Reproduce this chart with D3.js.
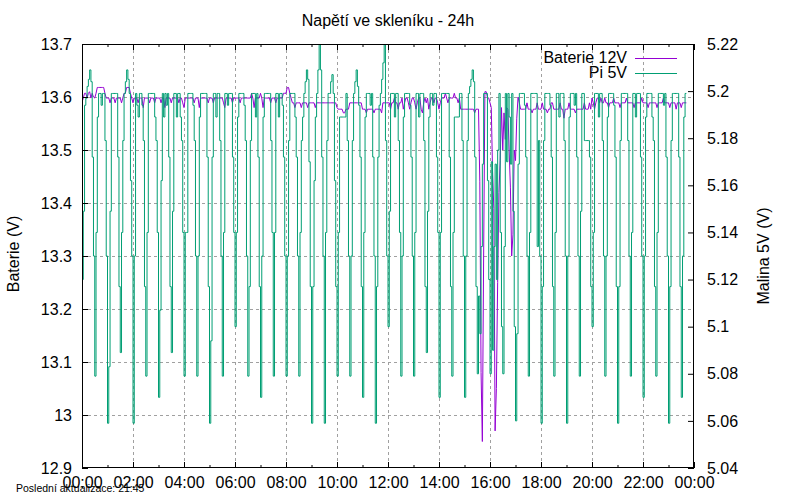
<!DOCTYPE html>
<html>
<head>
<meta charset="utf-8">
<script src="https://cdn.jsdelivr.net/npm/d3@7/dist/d3.min.js"></script>
<style>
	body { margin: 0; background: #fff; }
	svg { font-family: "Liberation Sans", Arial, sans-serif; }
</style>
</head>
<body>
<div id="chart"></div>
<script>
// one sample every 3 minutes, starting at 00:00
var stepMinutes = 3;

// Baterie 12V (left axis), one row per hour
var baterie = [
	13.59, 13.598, 13.607, 13.607, 13.598, 13.607, 13.61, 13.598, 13.607, 13.6, 13.598, 13.607, 13.618, 13.618, 13.618, 13.618, 13.618, 13.618, 13.607, 13.598,
	13.598, 13.598, 13.589, 13.598, 13.598, 13.598, 13.589, 13.598, 13.598, 13.598, 13.598, 13.589, 13.598, 13.607, 13.607, 13.618, 13.618, 13.618, 13.607, 13.598,
	13.589, 13.598, 13.598, 13.598, 13.589, 13.598, 13.598, 13.598, 13.58, 13.598, 13.598, 13.598, 13.598, 13.589, 13.598, 13.598, 13.598, 13.589, 13.598, 13.598,
	13.598, 13.598, 13.589, 13.598, 13.598, 13.58, 13.598, 13.598, 13.598, 13.598, 13.589, 13.598, 13.598, 13.598, 13.598, 13.598, 13.589, 13.598, 13.598, 13.589,
	13.58, 13.598, 13.598, 13.598, 13.598, 13.598, 13.598, 13.598, 13.589, 13.598, 13.598, 13.598, 13.58, 13.598, 13.598, 13.598, 13.598, 13.598, 13.598, 13.589,
	13.598, 13.598, 13.598, 13.589, 13.598, 13.598, 13.598, 13.598, 13.598, 13.598, 13.598, 13.589, 13.58, 13.598, 13.598, 13.598, 13.598, 13.598, 13.589, 13.598,
	13.598, 13.598, 13.598, 13.598, 13.589, 13.598, 13.598, 13.598, 13.598, 13.598, 13.598, 13.598, 13.598, 13.607, 13.598, 13.58, 13.598, 13.598, 13.598, 13.598,
	13.607, 13.598, 13.58, 13.598, 13.598, 13.598, 13.598, 13.598, 13.589, 13.598, 13.598, 13.598, 13.589, 13.598, 13.598, 13.598, 13.598, 13.598, 13.607, 13.607,
	13.607, 13.618, 13.618, 13.607, 13.598, 13.589, 13.589, 13.58, 13.589, 13.589, 13.589, 13.589, 13.58, 13.589, 13.589, 13.589, 13.589, 13.58, 13.589, 13.589,
	13.589, 13.589, 13.589, 13.58, 13.589, 13.589, 13.589, 13.589, 13.589, 13.589, 13.589, 13.589, 13.589, 13.589, 13.589, 13.589, 13.589, 13.589, 13.589, 13.589,
	13.58, 13.577, 13.577, 13.577, 13.577, 13.57, 13.57, 13.577, 13.577, 13.577, 13.589, 13.589, 13.589, 13.589, 13.589, 13.589, 13.589, 13.589, 13.589, 13.589,
	13.577, 13.577, 13.577, 13.57, 13.577, 13.577, 13.577, 13.577, 13.577, 13.57, 13.577, 13.577, 13.577, 13.577, 13.577, 13.57, 13.589, 13.589, 13.589, 13.589,
	13.589, 13.589, 13.577, 13.589, 13.589, 13.598, 13.589, 13.589, 13.577, 13.589, 13.589, 13.598, 13.577, 13.589, 13.598, 13.598, 13.589, 13.577, 13.589, 13.598,
	13.598, 13.589, 13.577, 13.589, 13.598, 13.598, 13.577, 13.57, 13.589, 13.598, 13.589, 13.598, 13.577, 13.589, 13.598, 13.598, 13.589, 13.598, 13.598, 13.589,
	13.577, 13.589, 13.598, 13.598, 13.598, 13.607, 13.598, 13.589, 13.598, 13.598, 13.598, 13.598, 13.607, 13.598, 13.598, 13.589, 13.598, 13.577, 13.577, 13.577,
	13.577, 13.577, 13.577, 13.577, 13.577, 13.577, 13.577, 13.577, 13.57, 13.577, 13.577, 13.577, 13.44, 13.08, 12.95, 13.3, 13.61, 13.61, 13.6, 13.598,
	13.589, 13.58, 13.46, 13.39, 12.97, 13.05, 13.25, 13.42, 13.48, 13.58, 13.5, 13.57, 13.52, 13.58, 13.577, 13.5, 13.43, 13.3, 13.34, 13.5,
	13.48, 13.56, 13.6, 13.589, 13.577, 13.577, 13.577, 13.577, 13.577, 13.589, 13.577, 13.577, 13.577, 13.57, 13.577, 13.577, 13.577, 13.589, 13.577, 13.577,
	13.577, 13.589, 13.577, 13.577, 13.577, 13.57, 13.577, 13.577, 13.589, 13.589, 13.577, 13.577, 13.577, 13.577, 13.577, 13.589, 13.577, 13.577, 13.56, 13.577,
	13.577, 13.577, 13.589, 13.577, 13.577, 13.577, 13.577, 13.57, 13.577, 13.577, 13.577, 13.577, 13.577, 13.577, 13.589, 13.577, 13.577, 13.577, 13.589, 13.577,
	13.598, 13.589, 13.577, 13.589, 13.598, 13.598, 13.589, 13.598, 13.589, 13.589, 13.598, 13.589, 13.589, 13.58, 13.589, 13.589, 13.589, 13.598, 13.589, 13.589,
	13.589, 13.589, 13.58, 13.589, 13.589, 13.589, 13.589, 13.598, 13.589, 13.589, 13.589, 13.589, 13.589, 13.58, 13.589, 13.589, 13.589, 13.589, 13.589, 13.598,
	13.589, 13.589, 13.589, 13.589, 13.58, 13.589, 13.589, 13.589, 13.589, 13.589, 13.589, 13.58, 13.589, 13.589, 13.589, 13.589, 13.598, 13.589, 13.589, 13.589,
	13.589, 13.58, 13.589, 13.589, 13.589, 13.589, 13.577, 13.589, 13.589, 13.589, 13.58, 13.589, 13.589, 13.589, 13.589
];

// Pi 5V (right axis), one row per half hour
var pi5v = [
	5.12, 5.149, 5.194, 5.197, 5.202, 5.205, 5.209, 5.204, 5.172, 5.13,
	5.079, 5.14, 5.189, 5.199, 5.199, 5.194, 5.199, 5.199, 5.179, 5.13,
	5.059, 5.083, 5.149, 5.199, 5.199, 5.199, 5.199, 5.199, 5.172, 5.117,
	5.089, 5.14, 5.179, 5.199, 5.204, 5.209, 5.205, 5.199, 5.162, 5.13,
	5.059, 5.13, 5.199, 5.194, 5.189, 5.199, 5.199, 5.194, 5.179, 5.117,
	5.079, 5.14, 5.199, 5.199, 5.199, 5.199, 5.199, 5.189, 5.179, 5.14,
	5.07, 5.107, 5.162, 5.199, 5.189, 5.199, 5.194, 5.199, 5.172, 5.117,
	5.089, 5.149, 5.199, 5.199, 5.189, 5.199, 5.199, 5.189, 5.179, 5.14,
	5.079, 5.14, 5.14, 5.199, 5.199, 5.199, 5.199, 5.194, 5.179, 5.13,
	5.079, 5.13, 5.189, 5.199, 5.199, 5.199, 5.199, 5.199, 5.172, 5.117,
	5.059, 5.094, 5.172, 5.199, 5.199, 5.189, 5.199, 5.199, 5.179, 5.13,
	5.079, 5.14, 5.199, 5.199, 5.194, 5.199, 5.199, 5.199, 5.172, 5.14,
	5.1, 5.14, 5.189, 5.199, 5.199, 5.199, 5.199, 5.194, 5.179, 5.13,
	5.079, 5.117, 5.179, 5.199, 5.199, 5.199, 5.189, 5.199, 5.172, 5.117,
	5.07, 5.13, 5.189, 5.199, 5.199, 5.199, 5.199, 5.199, 5.179, 5.14,
	5.079, 5.14, 5.199, 5.199, 5.189, 5.199, 5.199, 5.194, 5.172, 5.13,
	5.079, 5.13, 5.179, 5.199, 5.199, 5.199, 5.199, 5.189, 5.172, 5.13,
	5.079, 5.14, 5.179, 5.189, 5.199, 5.204, 5.209, 5.205, 5.17, 5.117,
	5.059, 5.117, 5.162, 5.189, 5.199, 5.209, 5.22, 5.209, 5.172, 5.13,
	5.059, 5.14, 5.179, 5.199, 5.199, 5.204, 5.207, 5.199, 5.162, 5.117,
	5.079, 5.14, 5.189, 5.189, 5.189, 5.189, 5.189, 5.199, 5.179, 5.13,
	5.079, 5.13, 5.179, 5.199, 5.204, 5.209, 5.202, 5.194, 5.172, 5.117,
	5.07, 5.14, 5.189, 5.199, 5.199, 5.199, 5.194, 5.199, 5.172, 5.13,
	5.059, 5.117, 5.172, 5.194, 5.199, 5.205, 5.212, 5.22, 5.179, 5.13,
	5.1, 5.149, 5.199, 5.199, 5.199, 5.189, 5.199, 5.199, 5.179, 5.14,
	5.079, 5.13, 5.189, 5.199, 5.199, 5.199, 5.199, 5.194, 5.172, 5.13,
	5.079, 5.14, 5.199, 5.199, 5.189, 5.199, 5.199, 5.199, 5.179, 5.117,
	5.089, 5.149, 5.189, 5.199, 5.199, 5.194, 5.199, 5.199, 5.172, 5.14,
	5.07, 5.14, 5.199, 5.199, 5.199, 5.199, 5.199, 5.199, 5.172, 5.117,
	5.079, 5.14, 5.189, 5.189, 5.189, 5.189, 5.199, 5.199, 5.179, 5.13,
	5.07, 5.13, 5.179, 5.199, 5.202, 5.205, 5.209, 5.204, 5.172, 5.117,
	5.08, 5.113, 5.097, 5.134, 5.169, 5.199, 5.199, 5.199, 5.162, 5.12,
	5.08, 5.17, 5.09, 5.134, 5.169, 5.12, 5.175, 5.199, 5.14, 5.1,
	5.08, 5.134, 5.199, 5.17, 5.199, 5.189, 5.169, 5.199, 5.149, 5.1,
	5.06, 5.097, 5.169, 5.199, 5.199, 5.199, 5.199, 5.194, 5.172, 5.13,
	5.079, 5.14, 5.199, 5.199, 5.199, 5.199, 5.199, 5.134, 5.179, 5.13,
	5.059, 5.117, 5.179, 5.199, 5.199, 5.199, 5.199, 5.194, 5.172, 5.117,
	5.079, 5.14, 5.199, 5.199, 5.189, 5.199, 5.199, 5.199, 5.179, 5.13,
	5.059, 5.13, 5.189, 5.199, 5.199, 5.199, 5.194, 5.199, 5.172, 5.13,
	5.079, 5.149, 5.199, 5.199, 5.179, 5.179, 5.179, 5.179, 5.172, 5.117,
	5.1, 5.14, 5.199, 5.199, 5.199, 5.189, 5.199, 5.199, 5.179, 5.13,
	5.079, 5.13, 5.189, 5.199, 5.199, 5.199, 5.199, 5.194, 5.172, 5.117,
	5.059, 5.117, 5.179, 5.199, 5.199, 5.199, 5.199, 5.199, 5.179, 5.13,
	5.079, 5.14, 5.199, 5.199, 5.189, 5.199, 5.199, 5.199, 5.172, 5.13,
	5.07, 5.13, 5.189, 5.199, 5.199, 5.199, 5.199, 5.189, 5.179, 5.117,
	5.079, 5.14, 5.199, 5.199, 5.199, 5.199, 5.194, 5.199, 5.172, 5.13,
	5.059, 5.117, 5.179, 5.199, 5.199, 5.199, 5.199, 5.199, 5.172, 5.117,
	5.07, 5.13, 5.189, 5.199, 5.199
];

var leftTicks = [12.9, 13, 13.1, 13.2, 13.3, 13.4, 13.5, 13.6, 13.7];
var rightTicks = [5.04, 5.06, 5.08, 5.1, 5.12, 5.14, 5.16, 5.18, 5.2, 5.22];
var xTickHours = [0, 2, 4, 6, 8, 10, 12, 14, 16, 18, 20, 22, 24];
var xMinorHours = [1, 3, 5, 7, 9, 11, 13, 15, 17, 19, 21, 23];
var seriesNames = ['Baterie 12V', 'Pi 5V'];
var seriesColors = ['#9400d3', '#009e73'];

var title = 'Napětí ve skleníku - 24h';
var leftLabel = 'Baterie (V)';
var rightLabel = 'Malina 5V (V)';
var footer = 'Poslední aktualizace: 21:45';

(function () {
	'use strict';
	var width = 800, height = 500;
	var margin = {top: 44, right: 106, bottom: 32, left: 82};
	var plotW = width - margin.left - margin.right,
		plotH = height - margin.top - margin.bottom;

	var day0 = Date.UTC(2024, 0, 1);
	function hourDate(h) {
		return new Date(day0 + h * 3600e3);
	}
	function sampleDate(i) {
		return new Date(day0 + i * stepMinutes * 60e3);
	}

	var x = d3.scaleUtc()
		.domain([hourDate(0), hourDate(24)])
		.range([0, plotW]);
	var yL = d3.scaleLinear()
		.domain([12.9, 13.7])
		.range([plotH, 0]);
	var yR = d3.scaleLinear()
		.domain([5.04, 5.22])
		.range([plotH, 0]);

	var svg = d3.select('#chart')
		.append('svg')
		.attr('width', width)
		.attr('height', height);

	svg.append('rect')
		.attr('width', width)
		.attr('height', height)
		.attr('fill', '#fff');

	var g = svg.append('g')
		.attr('transform', 'translate(' + margin.left + ',' + margin.top + ')');

	g.append('clipPath')
		.attr('id', 'plotclip')
		.append('rect')
		.attr('width', plotW)
		.attr('height', plotH);

	// grid
	var grid = g.append('g')
		.attr('stroke', '#a0a0a0')
		.attr('stroke-width', 1)
		.attr('stroke-dasharray', '3,3');
	grid.selectAll('.gx')
		.data(xTickHours.slice(1, -1))
		.enter().append('line')
		.attr('x1', function (h) { return Math.round(x(hourDate(h))) + 0.5; })
		.attr('x2', function (h) { return Math.round(x(hourDate(h))) + 0.5; })
		.attr('y1', 0)
		.attr('y2', plotH);
	grid.selectAll('.gy')
		.data(leftTicks.slice(1, -1))
		.enter().append('line')
		.attr('x1', 0)
		.attr('x2', plotW)
		.attr('y1', function (v) { return Math.round(yL(v)) + 0.5; })
		.attr('y2', function (v) { return Math.round(yL(v)) + 0.5; });

	// series
	var lineL = d3.line()
		.x(function (d, i) { return x(sampleDate(i)); })
		.y(function (d) { return yL(d); });
	// the Pi readings hold between samples, so draw them as steps
	var lineR = d3.line()
		.curve(d3.curveStepAfter)
		.x(function (d, i) { return x(sampleDate(i)); })
		.y(function (d) { return yR(d); });

	var plot = g.append('g').attr('clip-path', 'url(#plotclip)');
	plot.append('path')
		.datum(baterie)
		.attr('fill', 'none')
		.attr('stroke', seriesColors[0])
		.attr('stroke-width', 1)
		.attr('stroke-linejoin', 'round')
		.attr('d', lineL);
	plot.append('path')
		.datum(pi5v)
		.attr('fill', 'none')
		.attr('stroke', seriesColors[1])
		.attr('stroke-width', 1)
		.attr('stroke-linejoin', 'round')
		.attr('d', lineR);

	// axes, ticks pointing inwards like gnuplot
	var fmtTime = d3.utcFormat('%H:%M');
	var xAxis = d3.axisBottom(x)
		.tickValues(xTickHours.map(hourDate))
		.tickFormat(fmtTime)
		.tickSizeInner(-6)
		.tickSizeOuter(0)
		.tickPadding(9);
	var gx = g.append('g')
		.attr('transform', 'translate(0,' + plotH + ')')
		.call(xAxis);

	var xTop = d3.axisTop(x)
		.tickValues(xTickHours.map(hourDate))
		.tickFormat('')
		.tickSizeInner(-6)
		.tickSizeOuter(0);
	var gxt = g.append('g').call(xTop);

	var xMinor = d3.axisBottom(x)
		.tickValues(xMinorHours.map(hourDate))
		.tickFormat('')
		.tickSizeInner(-3)
		.tickSizeOuter(0);
	var gxm = g.append('g')
		.attr('transform', 'translate(0,' + plotH + ')')
		.call(xMinor);
	var xMinorTop = d3.axisTop(x)
		.tickValues(xMinorHours.map(hourDate))
		.tickFormat('')
		.tickSizeInner(-3)
		.tickSizeOuter(0);
	var gxmt = g.append('g').call(xMinorTop);

	var yAxisL = d3.axisLeft(yL)
		.tickValues(leftTicks)
		.tickFormat(d3.format('~g'))
		.tickSizeInner(-6)
		.tickSizeOuter(0)
		.tickPadding(10);
	var gyl = g.append('g').call(yAxisL);

	var yAxisR = d3.axisRight(yR)
		.tickValues(rightTicks)
		.tickFormat(d3.format('~g'))
		.tickSizeInner(-6)
		.tickSizeOuter(0)
		.tickPadding(13);
	var gyr = g.append('g')
		.attr('transform', 'translate(' + plotW + ',0)')
		.call(yAxisR);

	[gx, gxt, gxm, gxmt, gyl, gyr].forEach(function (a) {
		a.select('.domain').remove();
		a.selectAll('line').attr('stroke', '#000');
		a.selectAll('text')
			.attr('fill', '#000')
			.style('font-size', '16px')
			.style('font-family', '"Liberation Sans", Arial, sans-serif');
	});

	// border
	g.append('rect')
		.attr('x', 0.5)
		.attr('y', 0.5)
		.attr('width', plotW - 1)
		.attr('height', plotH - 1)
		.attr('fill', 'none')
		.attr('stroke', '#000')
		.attr('stroke-width', 1);

	// legend
	var legend = svg.append('g');
	seriesNames.forEach(function (name, i) {
		var ly = 58 + i * 15;
		legend.append('text')
			.attr('x', 627)
			.attr('y', ly + 5)
			.attr('text-anchor', 'end')
			.style('font-size', '16px')
			.text(name);
		legend.append('line')
			.attr('x1', 635)
			.attr('x2', 677)
			.attr('y1', ly + 0.5)
			.attr('y2', ly + 0.5)
			.attr('stroke', seriesColors[i])
			.attr('stroke-width', 1);
	});

	// texts
	svg.append('text')
		.attr('x', 388)
		.attr('y', 26)
		.attr('text-anchor', 'middle')
		.style('font-size', '16px')
		.text(title);

	svg.append('text')
		.attr('transform', 'translate(19,254) rotate(-90)')
		.attr('text-anchor', 'middle')
		.style('font-size', '16px')
		.text(leftLabel);

	svg.append('text')
		.attr('transform', 'translate(769,256) rotate(-90)')
		.attr('text-anchor', 'middle')
		.style('font-size', '16px')
		.text(rightLabel);

	svg.append('text')
		.attr('x', 16)
		.attr('y', 492)
		.style('font-size', '10.5px')
		.text(footer);
})();
</script>
</body>
</html>
